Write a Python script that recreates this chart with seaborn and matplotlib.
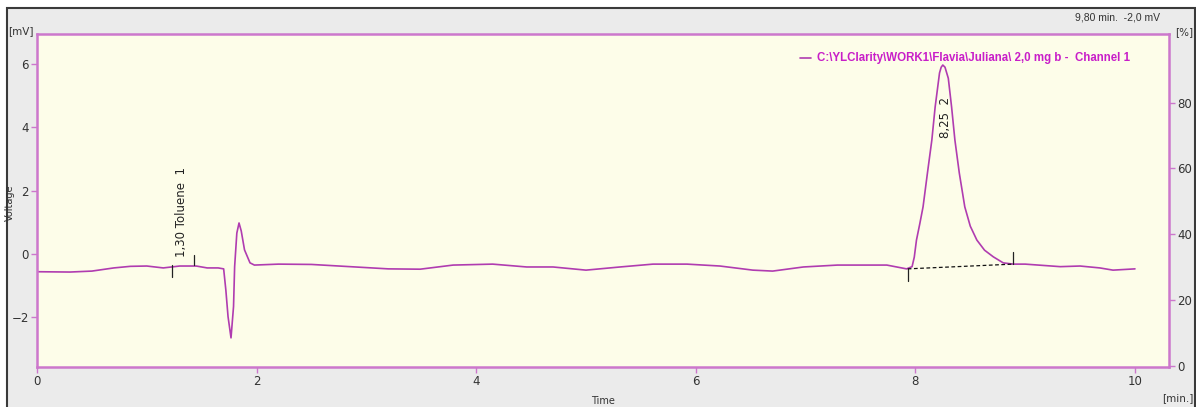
import matplotlib
matplotlib.use("Agg")
import matplotlib.pyplot as plt
import matplotlib.patches as mpatches
import numpy as np
import pandas as pd
import seaborn as sns

# chromatogram trace (time in min, signal in mV)
time_min = [0.00, 0.30, 0.50, 0.70, 0.85, 1.00, 1.15, 1.30, 1.45, 1.55, 1.65, 1.70,
            1.72, 1.74, 1.767, 1.79, 1.80, 1.82, 1.84, 1.86, 1.89, 1.94, 1.98,
            2.20, 2.50, 2.80, 3.20, 3.49, 3.79, 4.15, 4.46, 4.70, 5.00, 5.31,
            5.61, 5.92, 6.22, 6.52, 6.70, 6.98, 7.29, 7.74, 7.92, 7.97, 7.99,
            8.01, 8.04, 8.07, 8.11, 8.15, 8.18, 8.22, 8.235, 8.25, 8.27, 8.30, 8.33, 8.36, 8.40,
            8.45, 8.50, 8.56, 8.63, 8.71, 8.80, 8.89, 9.00, 9.32, 9.50, 9.68, 9.80, 10.00]
signal_mv = [-0.56, -0.57, -0.54, -0.44, -0.39, -0.38, -0.44, -0.38, -0.38, -0.44, -0.44, -0.47,
             -1.14, -1.98, -2.65, -1.66, -0.40, 0.66, 0.98, 0.73, 0.13, -0.28, -0.35,
             -0.32, -0.33, -0.39, -0.47, -0.48, -0.35, -0.32, -0.41, -0.41, -0.51, -0.41,
             -0.32, -0.32, -0.38, -0.51, -0.54, -0.41, -0.35, -0.35, -0.47, -0.40, -0.10,
             0.44, 0.95, 1.49, 2.56, 3.60, 4.64, 5.72, 5.90, 5.97, 5.90, 5.55, 4.64, 3.60, 2.56,
             1.49, 0.88, 0.44, 0.12, -0.09, -0.28, -0.32, -0.32, -0.40, -0.38, -0.44, -0.51, -0.47]

# integration marks: (time, y from, y to)
mark_t = [1.23, 1.43, 7.93, 8.89]
mark_y0 = [-0.35, -0.03, -0.47, 0.06]
mark_y1 = [-0.73, -0.35, -0.85, -0.32]

# peak 2 baseline
base_t = [7.93, 8.89]
base_y = [-0.47, -0.32]

peak_labels = ["1,30 Toluene  1", "8,25  2"]
peak_label_t = [1.32, 8.27]
peak_label_y = [-0.10, 4.30]

x_ticks = [0, 2, 4, 6, 8, 10]
y_ticks = [-2, 0, 2, 4, 6]
pct_ticks = [0, 20, 40, 60, 80]

df = pd.DataFrame({"Time": time_min, "Voltage": signal_mv})

sns.set_style("ticks")
plt.rcParams['font.family'] = ['DejaVu Sans']

fig = plt.figure(figsize=(11.96, 4.07), dpi=100)
fig.patch.set_facecolor("white")
# grey window panel with dark border
panel = mpatches.Rectangle((7 / 1196, -0.01), 1188 / 1196, 1 - 8 / 407 + 0.01,
                           transform=fig.transFigure, facecolor="#ebebeb",
                           edgecolor="#3a3a3a", linewidth=1.5, zorder=-10)
fig.add_artist(panel)

frame = "#cc77cc"
trace = "#b03cb0"

ax = fig.add_axes([37 / 1196, 1 - 367 / 407, 1132 / 1196, 333 / 407])
ax.set_facecolor("#fdfde9")
sns.lineplot(data=df, x="Time", y="Voltage", ax=ax, color=trace, linewidth=1.2,
             estimator=None, sort=False)

for t, a, b in zip(mark_t, mark_y0, mark_y1):
    ax.plot([t, t], [a, b], color="#222222", linewidth=0.9)
ax.plot(base_t, base_y, color="#111111", linewidth=0.9, linestyle=(0, (3, 2)))

for lab, t, y in zip(peak_labels, peak_label_t, peak_label_y):
    ax.text(t, y, lab, rotation=90, ha="center", va="center" if lab.startswith("8") else "bottom",
            fontsize=8.5, color="#222222")

ax.set_xlim(0, 10.31)
ax.set_ylim(-3.57, 6.95)
ax.set_xticks(x_ticks)
ax.set_yticks(y_ticks)
ax.set_xlabel("")
ax.set_ylabel("")
for s in ax.spines.values():
    s.set_color(frame)
    s.set_linewidth(1.8)
ax.tick_params(axis="both", direction="out", length=4, width=1, color=frame,
               labelsize=8.5, labelcolor="#333333", pad=2)

ax2 = ax.twinx()
ax2.set_ylim(-0.3, 100.8)
ax2.set_yticks(pct_ticks)
for s in ax2.spines.values():
    s.set_visible(False)
ax2.tick_params(axis="y", direction="out", length=4, width=1, color=frame,
                labelsize=8.5, labelcolor="#333333", pad=2)

# legend entry
ax.plot([0.674, 0.684], [0.928, 0.928], transform=ax.transAxes, color=trace, linewidth=1.2)
ax.text(0.689, 0.928, r"C:\YLClarity\WORK1\Flavia\Juliana\ 2,0 mg b -  Channel 1",
        transform=ax.transAxes, ha="left", va="center", fontsize=8.3, fontweight="bold",
        color="#c81ec8", family=["Liberation Sans", "DejaVu Sans"])

fig.text(1075 / 1196, 1 - 18 / 407, "9,80 min.  -2,0 mV", ha="left", va="center",
         fontsize=7.5, color="#333333", family=["Liberation Sans", "DejaVu Sans"])
fig.text(21 / 1196, 1 - 31 / 407, "[mV]", ha="center", va="center", fontsize=7.5, color="#333333")
fig.text(1184 / 1196, 1 - 32 / 407, "[%]", ha="center", va="center", fontsize=7.5, color="#333333")
fig.text(1178 / 1196, 1 - 398 / 407, "[min.]", ha="center", va="center", fontsize=7.5, color="#333333")
fig.text(603 / 1196, 1 - 401 / 407, "Time", ha="center", va="center", fontsize=7, color="#333333")
fig.text(10 / 1196, 1 - 203 / 407, "Voltage", ha="center", va="center", rotation=90,
         fontsize=7, color="#333333")

fig.savefig("out.png", dpi=100, facecolor=fig.get_facecolor())
